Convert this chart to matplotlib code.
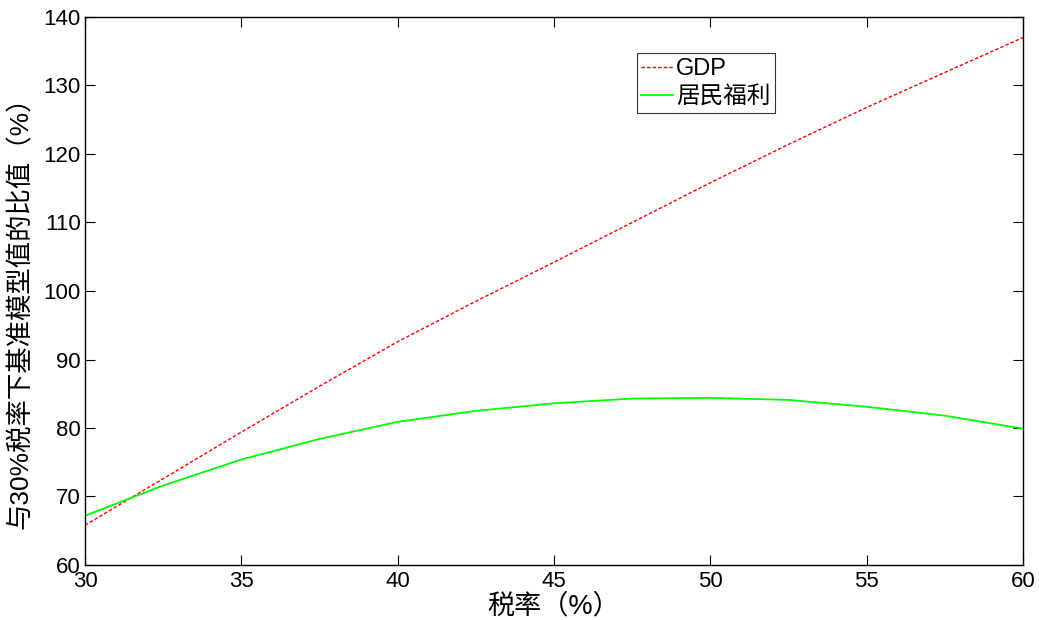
import matplotlib
matplotlib.use("Agg")
import matplotlib.pyplot as plt

plt.rcParams['font.family'] = ['Liberation Sans', 'Noto Sans CJK SC', 'DejaVu Sans']

# Tax rate (%) and ratios relative to the 30% baseline model (%)
tax_rate = [30, 32.5, 35, 37.5, 40, 42.5, 45, 47.5, 50, 52.5, 55, 57.5, 60]
gdp = [65.8, 72.6, 79.4, 86.1, 92.6, 98.5, 104.2, 110.0, 115.8, 121.4, 126.8, 131.9, 137.0]
welfare = [67.2, 71.6, 75.4, 78.4, 80.9, 82.5, 83.6, 84.3, 84.4, 84.1, 83.1, 81.8, 79.9]

x_ticks = [30, 35, 40, 45, 50, 55, 60]
y_ticks = [60, 70, 80, 90, 100, 110, 120, 130, 140]

fig = plt.figure(figsize=(10.39, 6.2), dpi=100)
ax = fig.add_axes([85 / 1039, 1 - 565 / 620, 938 / 1039, 548 / 620])

ax.plot(tax_rate, gdp, color='#ff0000', linestyle=(0, (2.5, 1.5)), linewidth=1.0, label='GDP')
ax.plot(tax_rate, welfare, color='#00ff00', linestyle='-', linewidth=1.3, label='居民福利')

ax.set_xlim(30, 60)
ax.set_ylim(60, 140)
ax.set_xticks(x_ticks)
ax.set_yticks(y_ticks)
ax.tick_params(direction='in', length=7, width=0.8, labelsize=16, top=True, right=True)
ax.tick_params(axis='x', pad=4)
ax.tick_params(axis='y', pad=3)
for s in ax.spines.values():
    s.set_linewidth(1.0)

cjk = ['Liberation Sans', 'Noto Sans CJK SC', 'DejaVu Sans']
ax.set_xlabel('税率（%）', fontsize=19.5, labelpad=1, family=cjk, fontweight='light')
ax.set_ylabel('与30%税率下基准模型值的比值（%）', fontsize=19,
              family=cjk, fontweight='light')
ax.yaxis.set_label_coords(-0.055, 0.473)

leg = ax.legend(loc='upper left', bbox_to_anchor=(0.588, 0.934),
                prop={'family': cjk, 'size': 17, 'weight': 'light'},
                frameon=True, fancybox=False, edgecolor='black', borderpad=0.2,
                handlelength=1.35, handletextpad=0.12, labelspacing=0.25, borderaxespad=0)
leg.get_frame().set_linewidth(0.8)

fig.savefig('out.png', dpi=100, facecolor='white')
